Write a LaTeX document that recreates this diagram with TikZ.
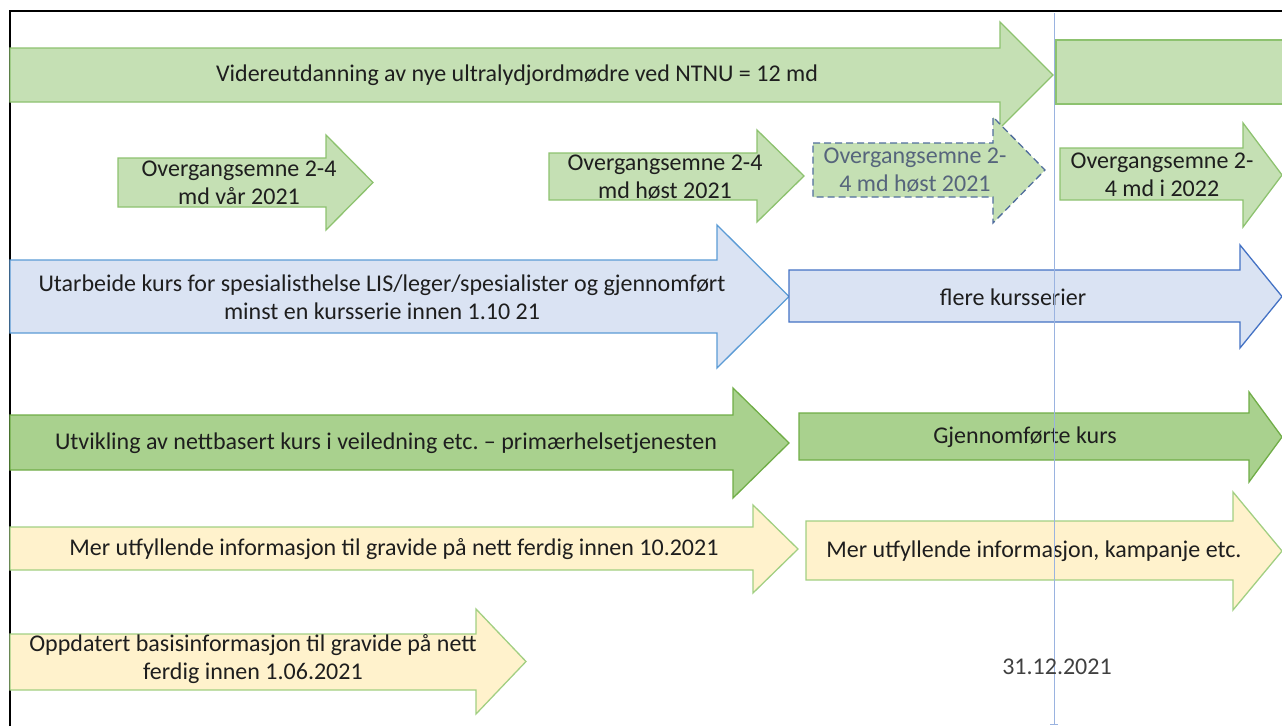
\documentclass[tikz,border=0pt]{standalone}
\usepackage{fontspec}
\setmainfont{Carlito}
\frenchspacing
\definecolor{lgfill}{HTML}{C5E0B4}
\definecolor{lgline}{HTML}{8DC26F}
\definecolor{bfill}{HTML}{DAE3F3}
\definecolor{bline}{HTML}{5B9BD5}
\definecolor{bline2}{HTML}{4472C4}
\definecolor{dgfill}{HTML}{A9D18E}
\definecolor{dgline}{HTML}{70AD47}
\definecolor{yfill}{HTML}{FFF2CC}
\definecolor{yline}{HTML}{A2CF82}
\definecolor{vline}{HTML}{9AB3E0}
\definecolor{txt}{HTML}{1E1E1E}
\definecolor{dtxt}{HTML}{56657C}
\definecolor{dline}{HTML}{506D9C}
\tikzset{
  lgarrow/.style={fill=lgfill,draw=lgline,line width=1.3pt,line join=miter},
  barrow/.style={fill=bfill,draw=bline,line width=1.3pt,line join=miter},
  barrow2/.style={fill=bfill,draw=bline2,line width=1.3pt,line join=miter},
  dgarrow/.style={fill=dgfill,draw=dgline,line width=1.3pt,line join=miter},
  yarrow/.style={fill=yfill,draw=yline,line width=1.3pt,line join=miter},
  dasharrow/.style={fill=lgfill,draw=dline,line width=1.3pt,dash pattern=on 7pt off 4pt},
  lbl/.style={text=txt,font=\fontsize{24}{28}\selectfont,align=center,inner sep=0pt},
  dlbl/.style={text=dtxt,font=\fontsize{24}{28}\selectfont,align=center,inner sep=0pt},
}
% \barr{style}{x1}{hx}{bt}{bb}{ht}{hb}{tipx}
\newcommand{\barr}[8]{%
  \draw[#1] (#2,#4) -- (#3,#4) -- (#3,#6) -- (#8,{(#6+#7)/2}) -- (#3,#7) -- (#3,#5) -- (#2,#5) -- cycle;}
\begin{document}
\begin{tikzpicture}[x=1pt,y=-1pt]
\useasboundingbox (0,0) rectangle (1282,726);
\begin{scope}
\clip (0,0) rectangle (1282,726);
% frame
\draw[black,line width=2pt] (10,726) -- (10,11) -- (1290,11);
% row 1
\barr{lgarrow}{10}{1000}{48}{102}{22}{128}{1053}
\draw[lgarrow] (1056,40) rectangle (1300,104);
\node[lbl] (t1) at (517,75) {Videreutdanning av nye ultralydjordmødre ved NTNU = 12 md};
% row 2
\barr{lgarrow}{118}{326}{158}{207}{135}{230}{373}
\node[lbl] (t2) at (239,183) {Overgangsemne 2-4\\md vår 2021};
\barr{lgarrow}{549}{757}{153}{200}{130}{222}{804}
\node[lbl] (t3) at (665,177) {Overgangsemne 2-4\\md høst 2021};
\barr{dasharrow}{813}{993}{143}{197}{117}{223}{1045}
\node[dlbl] (t4) at (915,170) {Overgangsemne 2-\\4 md høst 2021};
\barr{lgarrow}{1060}{1243}{148}{200}{123}{227}{1282}
\node[lbl] (t5) at (1162,175) {Overgangsemne 2-\\4 md i 2022};
% row 3
\barr{barrow}{10}{717}{260}{333}{225}{368}{789}
\node[lbl] (t6) at (382,297) {Utarbeide kurs for spesialisthelse LIS/leger/spesialister og gjennomført\\minst en kursserie innen 1.10 21};
\barr{barrow2}{789}{1240}{270}{322}{245}{348}{1282}
\node[lbl] (t7) at (1013,297) {flere kursserier};
% row 4
\barr{dgarrow}{10}{733}{415}{470}{388}{498}{789}
\node[lbl] (t8) at (386,443) {Utvikling av nettbasert kurs i veiledning etc. – primærhelsetjenesten};
\barr{dgarrow}{799}{1249}{413}{460}{392}{482}{1282}
\node[lbl] (t9) at (1025,437) {Gjennomførte kurs};
% row 5
\barr{yarrow}{10}{753}{527}{570}{505}{593}{798}
\node[lbl] (t10) at (394,549) {Mer utfyllende informasjon til gravide på nett ferdig innen 10.2021};
\barr{yarrow}{806}{1233}{521}{580}{492}{610}{1282}
\node[lbl] (t11) at (1034,551) {Mer utfyllende informasjon, kampanje etc.};
% row 6
\barr{yarrow}{10}{476}{634}{690}{609}{714}{526}
\node[lbl] (t12) at (253,659) {Oppdatert basisinformasjon til gravide på nett\\ferdig innen 1.06.2021};
% timeline
\coordinate (vtop) at (1054,13);
\coordinate (vbot) at (1054,724);
\draw[vline,line width=1pt] (vtop) -- (vbot);
\draw[vline,line width=1pt] (1050,724) -- (1058,724);
\node[text=txt!85,font=\fontsize{24}{28}\selectfont,inner sep=0pt] (date) at (1057,667) {31.12.2021};
\end{scope}
\end{tikzpicture}
\end{document}
